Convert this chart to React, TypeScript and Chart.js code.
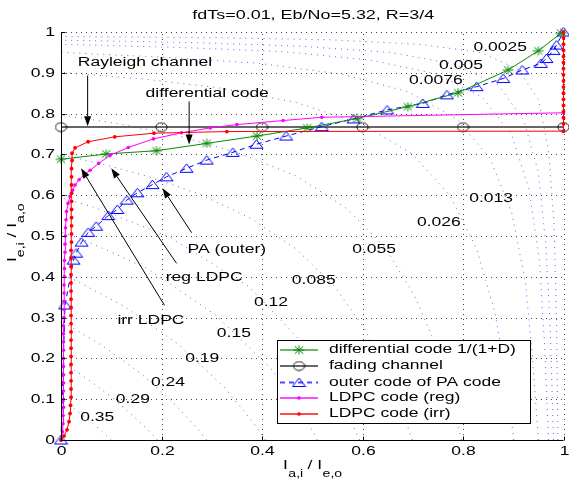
import React, { useEffect, useRef } from "react";
import { Chart, registerables } from "chart.js";
Chart.register(...registerables);

// ---------------- data ----------------
const TITLE = "fdTs=0.01, Eb/No=5.32, R=3/4";
const X_TICKS = [0, 0.2, 0.4, 0.6, 0.8, 1];
const X_TICK_LABELS = ["0", "0.2", "0.4", "0.6", "0.8", "1"];
const Y_TICKS = [0, 0.1, 0.2, 0.3, 0.4, 0.5, 0.6, 0.7, 0.8, 0.9, 1];
const Y_TICK_LABELS = ["0", "0.1", "0.2", "0.3", "0.4", "0.5", "0.6", "0.7", "0.8", "0.9", "1"];

const DIFF_X = [0, 0.09, 0.19, 0.29, 0.39, 0.49, 0.59, 0.69, 0.79, 0.89, 0.95, 0.995];
const DIFF_Y = [0.688, 0.701, 0.709, 0.727, 0.745, 0.765, 0.788, 0.817, 0.851, 0.907, 0.954, 0.997];

const FADING_X = [0, 0.2, 0.4, 0.6, 0.8, 1];
const FADING_Y = [0.767, 0.767, 0.767, 0.767, 0.767, 0.767];

const PA_X = [0, 0.008, 0.025, 0.03, 0.041, 0.054, 0.07, 0.094, 0.112, 0.131, 0.152, 0.182, 0.21, 0.25, 0.29, 0.342, 0.389, 0.448, 0.519, 0.582, 0.649, 0.72, 0.768, 0.827, 0.88, 0.918, 0.955, 0.966, 0.98, 0.986, 1.0];
const PA_Y = [0, 0.331, 0.441, 0.458, 0.485, 0.509, 0.524, 0.55, 0.565, 0.588, 0.606, 0.626, 0.645, 0.666, 0.686, 0.705, 0.725, 0.745, 0.768, 0.787, 0.809, 0.825, 0.846, 0.866, 0.886, 0.907, 0.923, 0.935, 0.955, 0.968, 1.0];

const REG_X = [0, 0.003, 0.004, 0.004, 0.005, 0.005, 0.005, 0.005, 0.005, 0.005, 0.005, 0.005, 0.005, 0.005, 0.005, 0.006, 0.006, 0.006, 0.006, 0.006, 0.007, 0.007, 0.007, 0.008, 0.008, 0.009, 0.009, 0.01, 0.011, 0.014, 0.018, 0.023, 0.028, 0.036, 0.046, 0.058, 0.075, 0.098, 0.134, 0.184, 0.24, 0.297, 0.35, 0.442, 0.519, 1.0];
const REG_Y = [0, 0.02, 0.04, 0.06, 0.08, 0.1, 0.12, 0.14, 0.16, 0.18, 0.2, 0.22, 0.24, 0.26, 0.28, 0.3, 0.32, 0.34, 0.36, 0.38, 0.4, 0.42, 0.44, 0.46, 0.48, 0.5, 0.52, 0.54, 0.56, 0.58, 0.597, 0.612, 0.625, 0.638, 0.65, 0.661, 0.678, 0.698, 0.717, 0.738, 0.753, 0.765, 0.773, 0.783, 0.791, 0.802];

const IRR_X = [0, 0.006, 0.012, 0.016, 0.018, 0.019, 0.02, 0.02, 0.02, 0.02, 0.02, 0.02, 0.02, 0.02, 0.02, 0.02, 0.02, 0.02, 0.02, 0.02, 0.02, 0.02, 0.02, 0.02, 0.02, 0.021, 0.021, 0.021, 0.021, 0.021, 0.021, 0.021, 0.021, 0.021, 0.021, 0.022, 0.022, 0.028, 0.054, 0.107, 0.185, 0.33, 1.0, 1.0, 1.0, 1.0, 1.0, 1.0, 1.0, 1.0, 1.0, 1.0, 1.0, 1.0, 1.0, 1.0, 1.0, 1.0, 1.0];
const IRR_Y = [0, 0.01, 0.025, 0.045, 0.065, 0.085, 0.105, 0.125, 0.145, 0.165, 0.185, 0.205, 0.225, 0.245, 0.265, 0.285, 0.305, 0.325, 0.345, 0.365, 0.385, 0.405, 0.425, 0.445, 0.465, 0.485, 0.505, 0.525, 0.545, 0.565, 0.585, 0.605, 0.625, 0.645, 0.665, 0.685, 0.703, 0.716, 0.731, 0.743, 0.752, 0.756, 0.757, 0.775, 0.79, 0.805, 0.82, 0.835, 0.85, 0.865, 0.88, 0.895, 0.91, 0.925, 0.94, 0.955, 0.97, 0.985, 1.0];

// BER contour lines (x, y pairs)
const C_0_0025 = [[0.989, 0], [0.986, 0.303], [0.981, 0.534], [0.97, 0.713], [0.95, 0.835], [0.909, 0.909], [0.835, 0.95], [0.713, 0.97], [0.534, 0.981], [0.303, 0.986], [0, 0.989]];
const C_0_005 = [[0.98, 0], [0.974, 0.264], [0.965, 0.478], [0.95, 0.656], [0.921, 0.784], [0.87, 0.87], [0.784, 0.921], [0.656, 0.95], [0.478, 0.965], [0.264, 0.974], [0, 0.98]];
const C_0_0076 = [[0.97, 0], [0.962, 0.239], [0.952, 0.442], [0.931, 0.616], [0.897, 0.748], [0.839, 0.839], [0.748, 0.897], [0.616, 0.931], [0.442, 0.952], [0.239, 0.962], [0, 0.97]];
const C_0_013 = [[0.95, 0], [0.938, 0.206], [0.924, 0.389], [0.897, 0.557], [0.854, 0.69], [0.787, 0.787], [0.69, 0.854], [0.557, 0.897], [0.389, 0.924], [0.206, 0.938], [0, 0.95]];
const C_0_026 = [[0.901, 0], [0.885, 0.163], [0.863, 0.315], [0.827, 0.469], [0.774, 0.599], [0.7, 0.7], [0.599, 0.774], [0.469, 0.827], [0.315, 0.863], [0.163, 0.885], [0, 0.901]];
const C_0_055 = [[0.797, 0], [0.775, 0.115], [0.747, 0.229], [0.704, 0.352], [0.646, 0.47], [0.568, 0.568], [0.47, 0.646], [0.352, 0.704], [0.229, 0.747], [0.115, 0.775], [0, 0.797]];
const C_0_085 = [[0.699, 0], [0.675, 0.086], [0.645, 0.176], [0.602, 0.277], [0.543, 0.378], [0.468, 0.468], [0.378, 0.543], [0.277, 0.602], [0.176, 0.645], [0.086, 0.675], [0, 0.699]];
const C_0_12 = [[0.594, 0], [0.571, 0.064], [0.499, 0.214], [0.375, 0.375], [0.214, 0.499], [0.064, 0.571], [0, 0.594]];
const C_0_15 = [[0.51, 0], [0.488, 0.05], [0.42, 0.172], [0.307, 0.307], [0.172, 0.42], [0.05, 0.488], [0, 0.51]];
const C_0_19 = [[0.407, 0], [0.386, 0.037], [0.326, 0.128], [0.234, 0.234], [0.128, 0.326], [0.037, 0.386], [0, 0.407]];
const C_0_24 = [[0.29, 0], [0.274, 0.024], [0.229, 0.085], [0.161, 0.161], [0.085, 0.229], [0.024, 0.274], [0, 0.29]];
const C_0_29 = [[0.192, 0], [0.181, 0.015], [0.149, 0.053], [0.103, 0.103], [0.053, 0.149], [0.015, 0.181], [0, 0.192]];
const C_0_35 = [[0.1, 0], [0.094, 0.007], [0.076, 0.027], [0.052, 0.052], [0.027, 0.076], [0.007, 0.094], [0, 0.1]];
const CONTOURS = [C_0_0025, C_0_005, C_0_0076, C_0_013, C_0_026, C_0_055, C_0_085, C_0_12, C_0_15, C_0_19, C_0_24, C_0_29, C_0_35];

const CONTOUR_LABELS = ["0.0025", "0.005", "0.0076", "0.013", "0.026", "0.055", "0.085", "0.12", "0.15", "0.19", "0.24", "0.29", "0.35"];
const CONTOUR_LABEL_X = [0.874, 0.796, 0.746, 0.856, 0.752, 0.623, 0.503, 0.418, 0.344, 0.281, 0.213, 0.143, 0.072];
const CONTOUR_LABEL_Y = [0.961, 0.919, 0.88, 0.593, 0.534, 0.466, 0.392, 0.336, 0.262, 0.2, 0.142, 0.098, 0.054];

const LEGEND_LABELS = ["differential code 1/(1+D)", "fading channel", "outer code of PA code", "LDPC code (reg)", "LDPC code (irr)"];

// annotation texts and arrows (data coordinates)
const ANNOTATIONS = [
  { text: "Rayleigh channel", tx: 0.167, ty: 0.926, x0: 0.053, y0: 0.893, x1: 0.053, y1: 0.769 },
  { text: "differential code", tx: 0.291, ty: 0.85, x0: 0.255, y0: 0.83, x1: 0.255, y1: 0.724 },
  { text: "PA (outer)", tx: 0.33, ty: 0.468, x0: 0.26, y0: 0.508, x1: 0.202, y1: 0.617 },
  { text: "reg LDPC", tx: 0.285, ty: 0.397, x0: 0.23, y0: 0.433, x1: 0.1, y1: 0.666 },
  { text: "irr LDPC", tx: 0.179, ty: 0.292, x0: 0.206, y0: 0.33, x1: 0.04, y1: 0.666 },
];

// ---------------- styling ----------------
const FONT = '"Liberation Sans", Arial, Helvetica, sans-serif';
const FS = 12.5;
const SX = 1.4;
const GREEN = "#0a8a0a";
const GRAY = "#333333";
const BLUE = "#0000ff";
const MAGENTA = "#ff00ff";
const RED = "#ff0000";

function pts(xs: number[], ys: number[]) {
  return xs.map((x, i) => ({ x, y: ys[i] }));
}
function pairPts(arr: number[][]) {
  return arr.map((p) => ({ x: p[0], y: p[1] }));
}

function makeCanvas(w: number, h: number, draw: (g: CanvasRenderingContext2D) => void) {
  const c = document.createElement("canvas");
  c.width = w;
  c.height = h;
  const g = c.getContext("2d")!;
  draw(g);
  return c;
}

function sText(ctx: CanvasRenderingContext2D, text: string, x: number, y: number, align: string, size = FS, sx = SX) {
  ctx.save();
  ctx.font = `${size}px ${FONT}`;
  const w = ctx.measureText(text).width * sx;
  const left = align === "left" ? x : align === "center" ? x - w / 2 : x - w;
  ctx.translate(left, y);
  ctx.scale(sx, 1);
  ctx.textAlign = "left";
  ctx.textBaseline = "middle";
  ctx.fillStyle = "#000";
  ctx.fillText(text, 0, 0);
  ctx.restore();
  return w;
}

function arrow(ctx: CanvasRenderingContext2D, x0: number, y0: number, x1: number, y1: number) {
  const ang = Math.atan2(y1 - y0, x1 - x0);
  const L = 10, W = 3.5;
  const bx = x1 - L * Math.cos(ang), by = y1 - L * Math.sin(ang);
  ctx.save();
  ctx.strokeStyle = "#000";
  ctx.fillStyle = "#000";
  ctx.lineWidth = 1;
  ctx.beginPath();
  ctx.moveTo(x0, y0);
  ctx.lineTo(bx, by);
  ctx.stroke();
  ctx.beginPath();
  ctx.moveTo(x1, y1);
  ctx.lineTo(bx + W * Math.sin(ang), by - W * Math.cos(ang));
  ctx.lineTo(bx - W * Math.sin(ang), by + W * Math.cos(ang));
  ctx.closePath();
  ctx.fill();
  ctx.restore();
}

export default function App() {
  const ref = useRef<HTMLCanvasElement>(null);

  useEffect(() => {
    const canvas = ref.current!;
    const star = makeCanvas(12, 10, (g) => {
      g.strokeStyle = GREEN;
      g.lineWidth = 1;
      g.beginPath();
      g.moveTo(0.5, 5); g.lineTo(11.5, 5);
      g.moveTo(6, 0.5); g.lineTo(6, 9.5);
      g.moveTo(1.8, 1.3); g.lineTo(10.2, 8.7);
      g.moveTo(1.8, 8.7); g.lineTo(10.2, 1.3);
      g.stroke();
    });
    const circ = makeCanvas(13, 11, (g) => {
      g.strokeStyle = "#111";
      g.lineWidth = 1;
      g.beginPath();
      g.ellipse(6.5, 5.5, 5.6, 4.4, 0, 0, Math.PI * 2);
      g.stroke();
    });
    const tri = makeCanvas(15, 11, (g) => {
      g.strokeStyle = BLUE;
      g.lineWidth = 1;
      g.beginPath();
      g.moveTo(7.5, 1);
      g.lineTo(14, 9.5);
      g.lineTo(1, 9.5);
      g.closePath();
      g.stroke();
    });

    const contourSets = CONTOURS.map((c) => ({
      data: pairPts(c),
      showLine: true,
      borderColor: "rgba(50,50,255,0.75)",
      borderWidth: 1,
      borderDash: [1, 5],
      pointRadius: 0,
      tension: 0,
    }));

    const datasets: any[] = [
      { data: pts(IRR_X, IRR_Y), showLine: true, borderColor: RED, borderWidth: 1, pointStyle: "circle", pointRadius: 1.9, pointBackgroundColor: RED, pointBorderWidth: 0, clip: false, tension: 0 },
      { data: pts(REG_X, REG_Y), showLine: true, borderColor: MAGENTA, borderWidth: 1, pointStyle: "circle", pointRadius: 1.8, pointBackgroundColor: MAGENTA, pointBorderWidth: 0, clip: false, tension: 0 },
      { data: pts(DIFF_X, DIFF_Y), showLine: true, borderColor: GREEN, borderWidth: 1, pointStyle: star, clip: false, tension: 0 },
      { data: pts(PA_X, PA_Y), showLine: true, borderColor: BLUE, borderWidth: 1, borderDash: [5, 4], pointStyle: tri, clip: false, tension: 0 },
      { data: pts(FADING_X, FADING_Y), showLine: true, borderColor: GRAY, borderWidth: 1.5, pointStyle: circ, clip: false, tension: 0 },
      ...contourSets,
    ];

    const deco = {
      id: "deco",
      beforeDraw(chart: any) {
        const ctx = chart.ctx;
        ctx.save();
        ctx.fillStyle = "#fff";
        ctx.fillRect(0, 0, chart.width, chart.height);
        ctx.restore();
      },
      beforeDatasetsDraw(chart: any) {
        const ctx = chart.ctx;
        const xs = chart.scales.x, ys = chart.scales.y;
        const a = chart.chartArea;
        ctx.save();
        ctx.strokeStyle = "#444";
        ctx.lineWidth = 1;
        ctx.setLineDash([1, 4]);
        X_TICKS.forEach((v) => {
          if (v === 0) return;
          const px = Math.round(xs.getPixelForValue(v)) + 0.5;
          ctx.beginPath();
          ctx.moveTo(px, a.bottom);
          ctx.lineTo(px, a.top);
          ctx.stroke();
        });
        Y_TICKS.forEach((v) => {
          if (v === 0) return;
          const py = Math.round(ys.getPixelForValue(v)) + 0.5;
          ctx.beginPath();
          ctx.moveTo(a.left, py);
          ctx.lineTo(a.right, py);
          ctx.stroke();
        });
        ctx.restore();
      },
      afterDatasetsDraw(chart: any) {
        const ctx = chart.ctx;
        const xs = chart.scales.x, ys = chart.scales.y;
        const a = chart.chartArea;
        const L = Math.round(a.left) + 0.5;
        const B = Math.round(a.bottom) + 0.5;
        ctx.save();
        // axes
        ctx.strokeStyle = "#000";
        ctx.lineWidth = 1;
        ctx.setLineDash([]);
        ctx.beginPath();
        ctx.moveTo(L, a.top);
        ctx.lineTo(L, B);
        ctx.lineTo(a.right, B);
        ctx.stroke();
        // ticks
        X_TICKS.forEach((v, i) => {
          const px = Math.round(xs.getPixelForValue(v)) + 0.5;
          ctx.beginPath();
          ctx.moveTo(px, B);
          ctx.lineTo(px, B - 4);
          ctx.stroke();
          sText(ctx, X_TICK_LABELS[i], px, 452, "center");
        });
        Y_TICKS.forEach((v, i) => {
          const py = Math.round(ys.getPixelForValue(v)) + 0.5;
          ctx.beginPath();
          ctx.moveTo(L, py);
          ctx.lineTo(L + 4, py);
          ctx.stroke();
          sText(ctx, Y_TICK_LABELS[i], 55, py, "right");
        });
        // title
        sText(ctx, TITLE, (a.left + a.right) / 2 + 1, 15, "center", 13, 1.38);
        // x label
        let cx = 283;
        cx += sText(ctx, "I", cx, 466, "left");
        cx += sText(ctx, "a,i", cx + 0.5, 474, "left", 10);
        cx += sText(ctx, " / ", cx, 466, "left");
        cx += sText(ctx, "I", cx, 466, "left");
        sText(ctx, "e,o", cx + 0.5, 474, "left", 10);
        // y label (rotated)
        ctx.save();
        ctx.translate(13, 262);
        ctx.rotate(-Math.PI / 2);
        ctx.fillStyle = "#000";
        ctx.textBaseline = "middle";
        let ty = 0;
        const piece = (t: string, size: number, off: number) => {
          ctx.save();
          ctx.font = `${size}px ${FONT}`;
          const w = ctx.measureText(t).width * 1.4;
          ctx.translate(ty, off);
          ctx.scale(1.4, 1);
          ctx.fillText(t, 0, 0);
          ctx.restore();
          ty += w;
        };
        piece("I", 12.5, 0);
        piece("e,i", 10, 8);
        piece(" / ", 12.5, 0);
        piece("I", 12.5, 0);
        piece("a,o", 10, 8);
        ctx.restore();
        // contour labels
        CONTOUR_LABELS.forEach((t, i) => {
          sText(ctx, t, xs.getPixelForValue(CONTOUR_LABEL_X[i]), ys.getPixelForValue(CONTOUR_LABEL_Y[i]), "center");
        });
        // annotations
        ANNOTATIONS.forEach((an) => {
          sText(ctx, an.text, xs.getPixelForValue(an.tx), ys.getPixelForValue(an.ty), "center");
          arrow(ctx, xs.getPixelForValue(an.x0), ys.getPixelForValue(an.y0), xs.getPixelForValue(an.x1), ys.getPixelForValue(an.y1));
        });
        // legend
        const lx = 277.5, ly = 340.5, lw = 253, lh = 83;
        ctx.fillStyle = "#fff";
        ctx.fillRect(lx, ly, lw, lh);
        ctx.strokeStyle = "#000";
        ctx.lineWidth = 1;
        ctx.strokeRect(lx, ly, lw, lh);
        const rows = [350, 366, 382.5, 398, 414];
        const colors = ["rgba(10,138,10,0.6)", "rgba(40,40,40,0.7)", "rgba(0,0,255,0.7)", "rgba(255,0,255,0.7)", "rgba(255,0,0,0.7)"];
        rows.forEach((ry, i) => {
          ctx.save();
          ctx.strokeStyle = colors[i];
          ctx.lineWidth = 2;
          if (i === 2) ctx.setLineDash([5, 4]);
          ctx.beginPath();
          ctx.moveTo(280, ry);
          ctx.lineTo(318, ry);
          ctx.stroke();
          ctx.restore();
          if (i === 0) ctx.drawImage(star, 299 - 6, ry - 5);
          if (i === 1) ctx.drawImage(circ, 299 - 6.5, ry - 5.5);
          if (i === 2) ctx.drawImage(tri, 299 - 7.5, ry - 5.5);
          if (i >= 3) {
            ctx.fillStyle = i === 3 ? MAGENTA : RED;
            ctx.beginPath();
            ctx.arc(299, ry, 1.8, 0, Math.PI * 2);
            ctx.fill();
          }
          sText(ctx, LEGEND_LABELS[i], 329, ry, "left");
        });
        ctx.restore();
      },
    };

    const chart = new Chart(canvas, {
      type: "scatter",
      data: { datasets },
      options: {
        animation: false,
        responsive: false,
        devicePixelRatio: 1,
        events: [],
        layout: { padding: { left: 61, top: 32, right: 5.5, bottom: 43 } },
        plugins: { legend: { display: false }, tooltip: { enabled: false } },
        scales: {
          x: { type: "linear", min: 0, max: 1, display: false },
          y: { type: "linear", min: 0, max: 1, display: false },
        },
      } as any,
      plugins: [deco as any],
    });
    return () => chart.destroy();
  }, []);

  return (
    <div style={{ position: "absolute", left: 0, top: 0, width: 569, height: 483, background: "#fff" }}>
      <canvas ref={ref} width={569} height={483} style={{ display: "block", width: 569, height: 483 }} />
    </div>
  );
}
